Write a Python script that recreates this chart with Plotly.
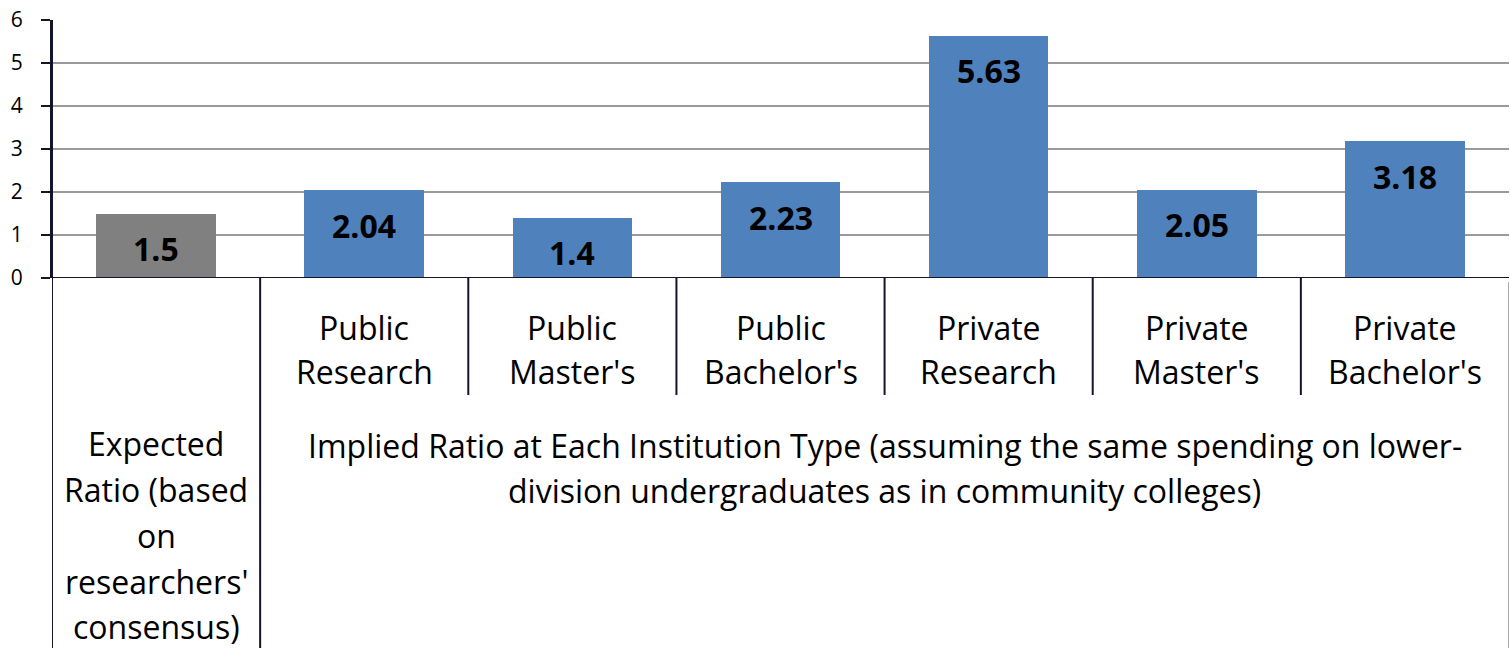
import plotly.graph_objects as go

# Institution types and ratios
categories = ["Expected Ratio", "Public Research", "Public Master's", "Public Bachelor's",
              "Private Research", "Private Master's", "Private Bachelor's"]
ratios = [1.5, 2.04, 1.4, 2.23, 5.63, 2.05, 3.18]
bar_colors = ["#808080"] + ["#4F81BD"] * 6

# Axis label lines (first level: institution type, second level: group)
type_lines = [[], ["Public", "Research"], ["Public", "Master's"], ["Public", "Bachelor's"],
              ["Private", "Research"], ["Private", "Master's"], ["Private", "Bachelor's"]]
expected_lines = ["Expected", "Ratio (based", "on", "researchers'", "consensus)"]
implied_lines = ["Implied Ratio at Each Institution Type (assuming the same spending on lower-",
                 "division undergraduates as in community colleges)"]
y_ticks = [0, 1, 2, 3, 4, 5, 6]

W, H = 1510, 655
ML, MR, MT, MB = 52, 1, 20, 377
plot_h = H - MT - MB
FONT = "Open Sans"
AXIS_COLOR = "#14142b"
LABEL_SIZE = 32


def py(pix):
    """Convert a pixel row to paper y coordinate."""
    return (H - MB - pix) / plot_h


x = list(range(len(categories)))

fig = go.Figure(go.Bar(
    x=x, y=ratios, width=0.575,
    marker=dict(color=bar_colors, line=dict(width=0)),
    hoverinfo="skip",
))

annotations = []
# Value labels inside the top of each bar
for xi, v in zip(x, ratios):
    annotations.append(dict(
        x=xi, y=v, xref="x", yref="y", text=f"<b>{v:g}</b>", showarrow=False,
        yanchor="middle", yshift=-35,
        font=dict(family=FONT, size=32, color="#000000"),
    ))

# First-level category labels
for xi, lines in zip(x, type_lines):
    for k, line in enumerate(lines):
        annotations.append(dict(
            x=xi, y=py(327 + 44 * k), xref="x", yref="paper", text=line,
            showarrow=False, yanchor="middle",
            font=dict(family=FONT, size=LABEL_SIZE, color="#000000"),
        ))

# Second-level group labels
for k, line in enumerate(expected_lines):
    annotations.append(dict(
        x=0, y=py(443 + 46 * k), xref="x", yref="paper", text=line,
        showarrow=False, yanchor="middle",
        font=dict(family=FONT, size=LABEL_SIZE, color="#000000"),
    ))
for k, line in enumerate(implied_lines):
    annotations.append(dict(
        x=3.5, y=py(445 + 45 * k), xref="x", yref="paper", text=line,
        showarrow=False, yanchor="middle",
        font=dict(family=FONT, size=LABEL_SIZE, color="#000000"),
    ))

shapes = []
# Baseline extended slightly to the left like a tick
shapes.append(dict(type="line", xref="paper", yref="y", x0=-9 / (W - ML - MR), x1=1, y0=0, y1=0,
                   line=dict(color=AXIS_COLOR, width=2)))
# Left axis continues down through the label area
shapes.append(dict(type="line", xref="x", yref="paper", x0=-0.5, x1=-0.5, y0=1, y1=py(648),
                   line=dict(color=AXIS_COLOR, width=2)))
# Divider between groups
shapes.append(dict(type="line", xref="x", yref="paper", x0=0.5, x1=0.5, y0=0, y1=py(648),
                   line=dict(color=AXIS_COLOR, width=2)))
# Dividers between institution types
for b in range(1, len(categories) - 1):
    shapes.append(dict(type="line", xref="x", yref="paper", x0=b + 0.5, x1=b + 0.5, y0=0, y1=py(395),
                       line=dict(color=AXIS_COLOR, width=2)))
# Right border of the label area
shapes.append(dict(type="line", xref="x", yref="paper", x0=6.5, x1=6.5, y0=py(282), y1=py(648),
                   line=dict(color="#8c8c8c", width=1.5)))

fig.update_layout(
    width=W, height=H,
    margin=dict(l=ML, r=MR, t=MT, b=MB, pad=0),
    paper_bgcolor="white", plot_bgcolor="white",
    showlegend=False,
    bargap=0,
    xaxis=dict(range=[-0.5, 6.5], showticklabels=False, showgrid=False, zeroline=False,
               showline=False, fixedrange=True),
    yaxis=dict(range=[0, 6], tickvals=y_ticks, showgrid=True, gridcolor="#9a9a9a", gridwidth=1.5,
               zeroline=False, showline=True, linecolor=AXIS_COLOR, linewidth=2,
               ticks="outside", ticklen=9, tickcolor=AXIS_COLOR, tickwidth=2,
               ticklabelstandoff=14,
               tickfont=dict(family=FONT, size=21, color="#000000"), fixedrange=True),
    annotations=annotations,
    shapes=shapes,
)

fig.write_html("out.html")
